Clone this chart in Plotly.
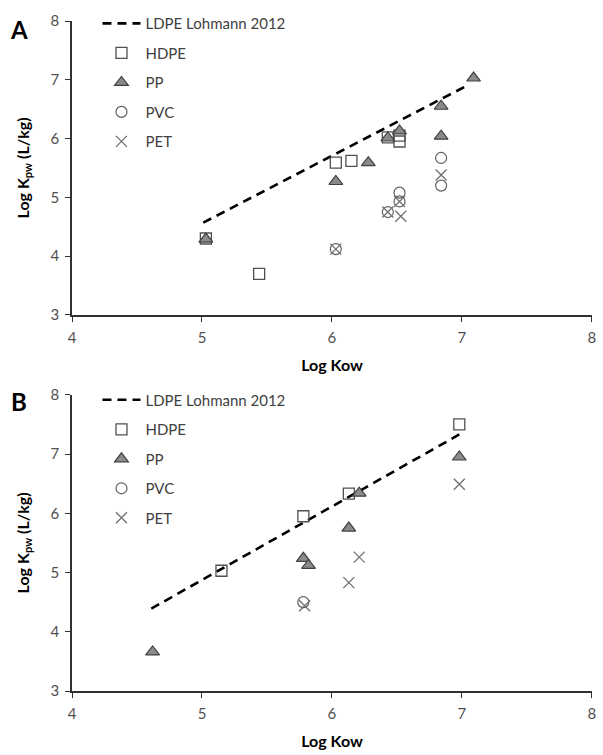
import plotly.graph_objects as go

# ---------------- data ----------------
# Panel A
A_ldpe_x = [5.01, 7.03]
A_ldpe_y = [4.57, 6.89]
A_hdpe_x = [5.03, 5.44, 6.03, 6.15, 6.43, 6.52, 6.52]
A_hdpe_y = [4.30, 3.70, 5.59, 5.62, 6.02, 6.05, 5.95]
A_pp_x = [5.03, 6.03, 6.28, 6.43, 6.52, 6.84, 6.84, 7.09]
A_pp_y = [4.29, 5.27, 5.59, 6.01, 6.13, 6.55, 6.04, 7.03]
A_pvc_x = [6.03, 6.43, 6.52, 6.52, 6.84, 6.84]
A_pvc_y = [4.12, 4.75, 5.08, 4.93, 5.67, 5.20]
A_pet_x = [6.03, 6.43, 6.52, 6.53, 6.84]
A_pet_y = [4.12, 4.75, 4.93, 4.68, 5.38]

# Panel B
B_ldpe_x = [4.61, 6.98]
B_ldpe_y = [4.39, 7.33]
B_hdpe_x = [5.15, 5.78, 6.13, 6.98]
B_hdpe_y = [5.03, 5.95, 6.33, 7.50]
B_pp_x = [4.62, 5.78, 5.82, 6.13, 6.21, 6.98]
B_pp_y = [3.66, 5.24, 5.12, 5.75, 6.34, 6.95]
B_pvc_x = [5.78]
B_pvc_y = [4.50]
B_pet_x = [5.79, 6.13, 6.21, 6.98]
B_pet_y = [4.44, 4.83, 5.26, 6.49]

names = ["LDPE Lohmann 2012", "HDPE", "PP", "PVC", "PET"]
x_ticks = [4, 5, 6, 7, 8]
y_ticks = [3, 4, 5, 6, 7, 8]
panel_labels = ["A", "B"]

FONT = "Lato, 'Open Sans', sans-serif"

fig = go.Figure()

def add_panel(xa, ya, leg, ldx, ldy, hx, hy, ppx, ppy, pvx, pvy, ptx, pty):
    fig.add_trace(go.Scatter(x=ldx, y=ldy, mode="lines", name=names[0],
                             line=dict(color="black", width=2.6, dash="9px,6px"),
                             xaxis=xa, yaxis=ya, legend=leg, legendgroup=leg + "l"))
    fig.add_trace(go.Scatter(x=hx, y=hy, mode="markers", name=names[1],
                             marker=dict(symbol="square-open", size=11, color="#505050",
                                         line=dict(width=1.3, color="#505050")),
                             xaxis=xa, yaxis=ya, legend=leg, legendgroup=leg + "h"))
    fig.add_trace(go.Scatter(x=ppx, y=ppy, mode="markers", name=names[2],
                             marker=dict(symbol="triangle-up", size=12, color="#8a8a8a",
                                         line=dict(width=1.2, color="#404040")),
                             xaxis=xa, yaxis=ya, legend=leg, legendgroup=leg + "p"))
    fig.add_trace(go.Scatter(x=pvx, y=pvy, mode="markers", name=names[3],
                             marker=dict(symbol="circle-open", size=11, color="#606060",
                                         line=dict(width=1.2, color="#606060")),
                             xaxis=xa, yaxis=ya, legend=leg, legendgroup=leg + "v"))
    fig.add_trace(go.Scatter(x=ptx, y=pty, mode="markers", name=names[4],
                             marker=dict(symbol="x-thin-open", size=11, color="#707070",
                                         line=dict(width=1.3, color="#707070")),
                             xaxis=xa, yaxis=ya, legend=leg, legendgroup=leg + "t"))

add_panel("x", "y", "legend", A_ldpe_x, A_ldpe_y, A_hdpe_x, A_hdpe_y, A_pp_x, A_pp_y,
          A_pvc_x, A_pvc_y, A_pet_x, A_pet_y)
add_panel("x2", "y2", "legend2", B_ldpe_x, B_ldpe_y, B_hdpe_x, B_hdpe_y, B_pp_x, B_pp_y,
          B_pvc_x, B_pvc_y, B_pet_x, B_pet_y)

axis_common = dict(showgrid=False, zeroline=False, showline=True, linecolor="#303030",
                   linewidth=1.5, ticks="outside", ticklen=5, tickcolor="#303030",
                   tickwidth=1.3, ticklabeloverflow="allow",
                   tickfont=dict(family=FONT, size=15, color="#505050"))

xt = dict(range=[4, 8.001], tickvals=x_ticks, ticktext=[str(v) for v in x_ticks],
          title=dict(text="<b>Log Kow</b>", font=dict(family=FONT, size=16, color="black"),
                     standoff=15),
          ticklabelstandoff=3, **axis_common)
yt = dict(range=[3, 8], tickvals=y_ticks, ticktext=[str(v) for v in y_ticks],
          title=dict(text="<b>Log K<sub>pw</sub> (L/kg)</b>",
                     font=dict(family=FONT, size=16, color="black"), standoff=17),
          ticklabelstandoff=3, **axis_common)

legend_common = dict(font=dict(family=FONT, size=15, color="#404040"),
                     bgcolor="rgba(0,0,0,0)", tracegroupgap=7, traceorder="grouped",
                     itemwidth=38, xanchor="left", yanchor="top")

fig.update_layout(
    width=603, height=755,
    margin=dict(l=72, r=7, t=19, b=59),
    paper_bgcolor="white", plot_bgcolor="white",
    font=dict(family=FONT),
    xaxis=dict(domain=[0, 1], anchor="y", **xt),
    yaxis=dict(domain=[0.5613, 1], anchor="x", **yt),
    xaxis2=dict(domain=[0, 1], anchor="y2", **xt),
    yaxis2=dict(domain=[0, 0.4421], anchor="x2", **yt),
    legend=dict(x=0.049, y=1.0207, **legend_common),
    legend2=dict(x=0.049, y=0.4589, **legend_common),
    showlegend=True,
)

for lab, ypix in zip(panel_labels, [28, 403]):
    fig.add_annotation(text="<b>%s</b>" % lab, xref="paper", yref="paper",
                       x=(18.5 - 72) / 524, y=(696 - ypix) / 677,
                       xanchor="center", yanchor="middle", showarrow=False,
                       font=dict(family=FONT, size=24, color="black"))

fig.write_html("out.html", config={"displayModeBar": False},
               post_script="document.body.style.margin='0px';document.body.style.overflow='hidden';")
